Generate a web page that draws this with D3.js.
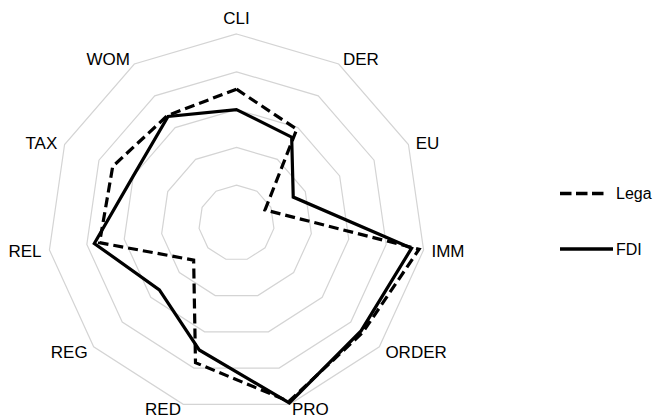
<!DOCTYPE html>
<html>
<head>
<meta charset="utf-8">
<script src="https://cdn.jsdelivr.net/npm/d3@7"></script>
<style>
  html, body { margin: 0; padding: 0; background: #fff; }
  svg { display: block; }
  text { font-family: "Liberation Sans", Arial, Helvetica, sans-serif; fill: #000; }
</style>
</head>
<body>
<svg id="chart" width="657" height="420"></svg>
<script>
// Data
const categories = ["CLI", "DER", "EU", "IMM", "ORDER", "PRO", "RED", "REG", "REL", "TAX", "WOM"];
const legaValues = [3.54, 2.95, 0.83, 4.88, 4.42, 4.92, 3.85, 1.5, 3.66, 3.6, 3.38];
const fdiValues  = [3.0, 2.7, 1.65, 4.68, 4.36, 4.96, 3.5, 2.7, 3.8, 3.0, 3.35];
const gridLevels = [1, 2, 3, 4, 5];
const seriesNames = ["Lega", "FDI"];

const svg = d3.select("#chart");
const cx = 236.5, cy = 223, R = 189;
const n = categories.length;

const r = d3.scaleLinear().domain([0, 5]).range([0, R]);
const angle = d3.scaleLinear().domain([0, n]).range([0, 2 * Math.PI]);

const pt = (i, v) => [cx + r(v) * Math.sin(angle(i)), cy - r(v) * Math.cos(angle(i))];

const line = d3.line().curve(d3.curveLinearClosed);

// Grid polygons
svg.append("g").selectAll("path")
  .data(gridLevels)
  .join("path")
  .attr("d", lv => line(categories.map((c, i) => pt(i, lv))))
  .attr("fill", "none")
  .attr("stroke", "#d4d4d4")
  .attr("stroke-width", 1.2);

// Series
const series = [
  { name: seriesNames[0], values: legaValues, dash: "10,5" },
  { name: seriesNames[1], values: fdiValues, dash: null }
];

svg.append("g").selectAll("path")
  .data(series)
  .join("path")
  .attr("d", s => line(s.values.map((v, i) => pt(i, v))))
  .attr("fill", "none")
  .attr("stroke", "#000")
  .attr("stroke-width", 3.2)
  .attr("stroke-linejoin", "miter")
  .attr("stroke-dasharray", s => s.dash);

// Labels
svg.append("g").selectAll("text")
  .data(categories)
  .join("text")
  .each(function (c, i) {
    const a = angle(i);
    const s = Math.sin(a), co = Math.cos(a);
    let x = cx + (R + 8) * s;
    let y = cy - (R + 8) * co;
    let anchor = "middle";
    if (s > 0.1) anchor = "start";
    else if (s < -0.1) anchor = "end";
    if (co > 0.99) y -= 8;
    else if (co > 0) y += 2;
    else if (co < -0.9) y -= 3;
    d3.select(this)
      .attr("x", x).attr("y", y)
      .attr("dy", "0.35em")
      .attr("text-anchor", anchor)
      .attr("font-size", "17px")
      .text(c);
  });

// Legend
const legend = svg.append("g");
const legY = [193.5, 249];
const legEnd = [604, 613];
series.forEach((s, k) => {
  legend.append("line")
    .attr("x1", 560).attr("x2", legEnd[k])
    .attr("y1", legY[k]).attr("y2", legY[k])
    .attr("stroke", "#000")
    .attr("stroke-width", 3.4)
    .attr("stroke-dasharray", s.dash ? "11.5,4.5" : null);
  legend.append("text")
    .attr("x", 616).attr("y", legY[k])
    .attr("dy", "0.35em")
    .attr("font-size", "16px")
    .text(s.name);
});
</script>
</body>
</html>
